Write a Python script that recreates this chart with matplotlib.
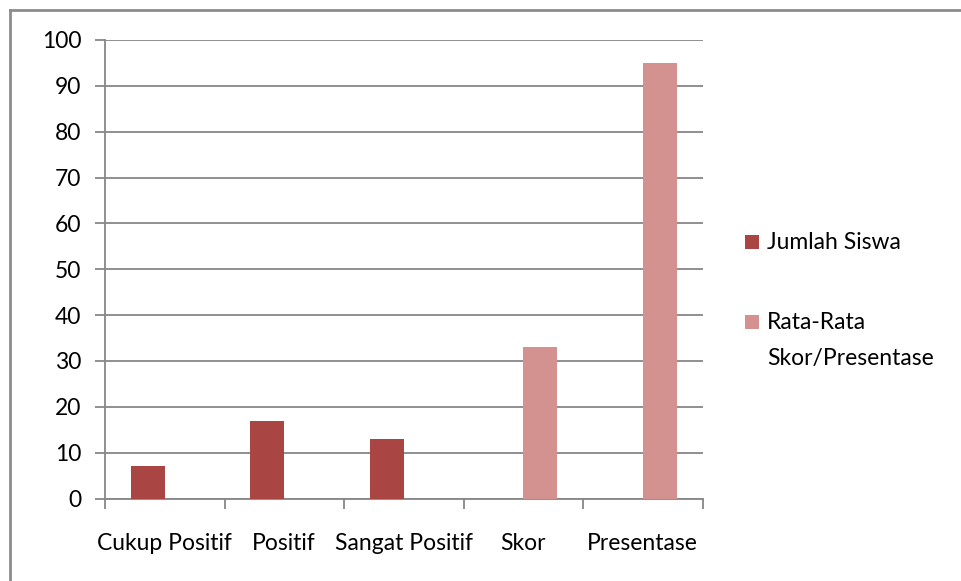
import numpy as np
import matplotlib
matplotlib.use('Agg')
import matplotlib.pyplot as plt
from matplotlib.lines import Line2D
from matplotlib.patches import Rectangle

# data
categories = ['Cukup Positif', 'Positif', 'Sangat Positif', 'Skor', 'Presentase']
jumlah_siswa = [7, 17, 13, 0, 0]
rata_rata = [0, 0, 0, 33, 95]
series_names = ['Jumlah Siswa', 'Rata-Rata\nSkor/Presentase']
yticks = [0, 10, 20, 30, 40, 50, 60, 70, 80, 90, 100]

c1 = '#A94543'
c2 = '#D39190'
grid_c = '#878787'

plt.rcParams['font.family'] = ['Lato', 'DejaVu Sans']
fs = 16.5

W, H = 961, 581
fig = plt.figure(figsize=(W / 100, H / 100), dpi=100)
ax = fig.add_axes([105 / W, 1 - 498.5 / H, (702.5 - 105) / W, (498.5 - 40) / H])

x = np.arange(len(categories))
bw = 0.285
b1 = ax.bar(x - bw / 2, jumlah_siswa, bw, color=c1, label=series_names[0], zorder=3)
b2 = ax.bar(x + bw / 2, rata_rata, bw, color=c2, label=series_names[1], zorder=3)

ax.set_xlim(-0.5, len(categories) - 0.5)
ax.set_ylim(0, 100)
ax.set_yticks(yticks)
ax.set_yticklabels([str(v) for v in yticks], fontsize=fs)
ax.yaxis.grid(True, color=grid_c, linewidth=1.3, zorder=0)
ax.tick_params(axis='y', length=7, width=1.3, color=grid_c, pad=10)

# category labels centred, ticks on category boundaries
ax.set_xticks(x)
ax.set_xticklabels(categories, fontsize=fs)
ax.tick_params(axis='x', length=0, pad=25)
ax.set_xticks(np.arange(len(categories) + 1) - 0.5, minor=True)
ax.tick_params(axis='x', which='minor', length=7, width=1.3, color=grid_c)

for s in ['top', 'right']:
    ax.spines[s].set_visible(False)
for s in ['left', 'bottom']:
    ax.spines[s].set_color(grid_c)
    ax.spines[s].set_linewidth(1.3)

# legend like Excel: square lined up with the first text line
leg_y = [242, 322]
for bars, name, yy in zip([b1, b2], series_names, leg_y):
    sq = 14
    fig.add_artist(Rectangle((745 / W, 1 - (yy + sq / 2) / H), sq / W, sq / H,
                             facecolor=bars.patches[0].get_facecolor(), edgecolor='none',
                             transform=fig.transFigure))
    fig.text(767 / W, 1 - (yy - 10) / H, name, fontsize=fs, va='top', ha='left',
             linespacing=1.9)

# outer chart frame (top and left edge visible)
fig.add_artist(Line2D([10 / W, 1], [1 - 10 / H, 1 - 10 / H], color='#8c8c8c', linewidth=2,
                      transform=fig.transFigure))
fig.add_artist(Line2D([10 / W, 10 / W], [0, 1 - 10 / H], color='#8c8c8c', linewidth=2,
                      transform=fig.transFigure))

fig.savefig('out.png', dpi=100)
